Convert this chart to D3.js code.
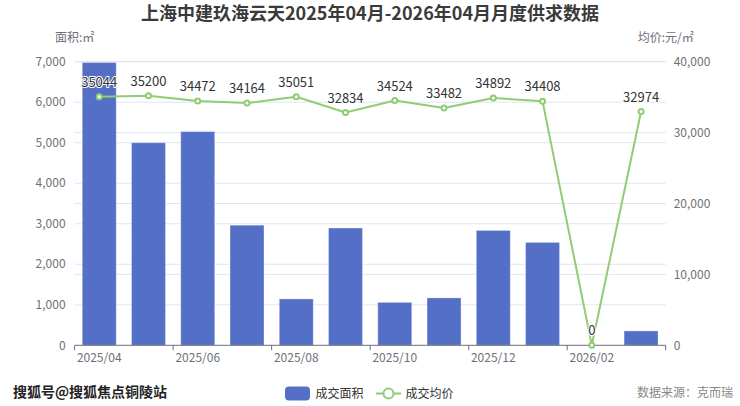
<!DOCTYPE html>
<html><head><meta charset="utf-8">
<script src="https://cdn.jsdelivr.net/npm/d3@7/dist/d3.min.js"></script>
<style>
html,body{margin:0;padding:0;background:#fff;}
svg{display:block;font-family:"Noto Sans CJK SC","Noto Sans",sans-serif;}
</style></head>
<body><svg id="c" width="740" height="406"></svg>
<script>
const months = ["2025/04","2025/05","2025/06","2025/07","2025/08","2025/09","2025/10","2025/11","2025/12","2026/01","2026/02","2026/03"];
const areaValues = [6980, 5000, 5275, 2965, 1145, 2895, 1060, 1170, 2835, 2540, 0, 355];
const priceValues = [35044, 35200, 34472, 34164, 35051, 32834, 34524, 33482, 34892, 34408, 0, 32974];
const leftTicks = [0,1000,2000,3000,4000,5000,6000,7000];
const rightTicks = [0,10000,20000,30000,40000];
const titleText = "上海中建玖海云天2025年04月-2026年04月月度供求数据";
const legendNames = ["成交面积","成交均价"];

const svg = d3.select("#c");
const L = 74.6, R = 665.7, T = 61.7, B = 345.3;
const x = d3.scaleBand().domain(months).range([L,R]).paddingInner(0).paddingOuter(0);
const yL = d3.scaleLinear().domain([0,7000]).range([B,T]);
const yR = d3.scaleLinear().domain([0,40000]).range([B,T]);
const barColor = "#5470C6", lineColor = "#91CC75", axisColor = "#6E7079", gridColor = "#E0E6F1";

// title
svg.append("text").attr("x",370).attr("y",20).attr("text-anchor","middle")
  .attr("font-size",18).attr("font-weight","bold").attr("fill","#3a3a3a").text(titleText);

// grid lines
const g = svg.append("g");
g.selectAll(".gl").data(leftTicks.filter(d=>d>0)).join("line")
  .attr("x1",L).attr("x2",R).attr("y1",d=>yL(d)).attr("y2",d=>yL(d))
  .attr("stroke",gridColor).attr("stroke-width",1);
g.selectAll(".gr").data(rightTicks.filter(d=>d>0)).join("line")
  .attr("x1",L).attr("x2",R).attr("y1",d=>yR(d)).attr("y2",d=>yR(d))
  .attr("stroke",gridColor).attr("stroke-width",1);

// axis names
svg.append("text").attr("x",L).attr("y",42).attr("text-anchor","middle").attr("font-size",12).attr("fill",axisColor).text("面积:㎡");
svg.append("text").attr("x",R).attr("y",42).attr("text-anchor","middle").attr("font-size",12).attr("fill",axisColor).text("均价:元/㎡");

// axis labels
const fmt = d3.format(",");
svg.append("g").selectAll("text").data(leftTicks).join("text")
  .attr("x",L-9).attr("y",d=>yL(d)).attr("dy","0.35em").attr("text-anchor","end")
  .attr("font-size",12).attr("fill",axisColor).text(d=>fmt(d));
svg.append("g").selectAll("text").data(rightTicks).join("text")
  .attr("x",R+8).attr("y",d=>yR(d)).attr("dy","0.35em").attr("text-anchor","start")
  .attr("font-size",12).attr("fill",axisColor).text(d=>fmt(d));

// bars
const bw = 34;
svg.append("g").selectAll("rect").data(areaValues).join("rect")
  .attr("x",(d,i)=>x(months[i])+x.bandwidth()/2-bw/2)
  .attr("width",bw)
  .attr("y",d=>yL(d)).attr("height",d=>B-yL(d))
  .attr("fill",barColor).attr("stroke","rgba(255,255,255,0.35)").attr("stroke-width",1);

// x axis
svg.append("line").attr("x1",L).attr("x2",R).attr("y1",B).attr("y2",B).attr("stroke",axisColor).attr("stroke-width",1);
const tickIdx = months.map((m,i)=>i).filter(i=>i%2===0);
svg.append("g").selectAll("line").data(tickIdx.concat([months.length])).join("line")
  .attr("x1",i=> i<months.length? x(months[i]) : R).attr("x2",i=> i<months.length? x(months[i]) : R)
  .attr("y1",B).attr("y2",B+5).attr("stroke",axisColor);
svg.append("g").selectAll("text").data(tickIdx).join("text")
  .attr("x",i=>x(months[i])+x.bandwidth()/2).attr("y",B+17).attr("text-anchor","middle")
  .attr("font-size",12).attr("fill",axisColor).text(i=>months[i]);

// line
const cx = i => x(months[i]) + x.bandwidth()/2;
const line = d3.line().x((d,i)=>cx(i)).y(d=>yR(d));
svg.append("path").datum(priceValues).attr("d",line).attr("fill","none")
  .attr("stroke",lineColor).attr("stroke-width",2).attr("stroke-linejoin","round");
svg.append("g").selectAll("circle").data(priceValues).join("circle")
  .attr("cx",(d,i)=>cx(i)).attr("cy",d=>yR(d)).attr("r",2.5)
  .attr("fill","#fff").attr("stroke",lineColor).attr("stroke-width",2);
svg.append("g").selectAll("text").data(priceValues).join("text")
  .attr("x",(d,i)=>cx(i)).attr("y",d=>yR(d)-10).attr("text-anchor","middle")
  .attr("font-size",13).attr("fill","#333")
  .attr("stroke","#fff").attr("stroke-width",2).attr("paint-order","stroke").attr("stroke-linejoin","round")
  .text(d=>d);

// legend
const lg = svg.append("g");
lg.append("rect").attr("x",285).attr("y",386.5).attr("width",25).attr("height",14).attr("rx",4).attr("fill",barColor);
lg.append("text").attr("x",315.5).attr("y",393.5).attr("dy","0.35em").attr("font-size",12).attr("fill","#333").text(legendNames[0]);
lg.append("line").attr("x1",376).attr("x2",401).attr("y1",393.5).attr("y2",393.5).attr("stroke",lineColor).attr("stroke-width",2);
lg.append("circle").attr("cx",388.5).attr("cy",393.5).attr("r",5).attr("fill","#fff").attr("stroke",lineColor).attr("stroke-width",2);
lg.append("text").attr("x",405.5).attr("y",393.5).attr("dy","0.35em").attr("font-size",12).attr("fill","#333").text(legendNames[1]);

// watermark & source
svg.append("text").attr("x",13).attr("y",392).attr("dy","0.35em").attr("font-size",14).attr("font-weight","bold")
  .attr("fill","#222").attr("stroke","#fff").attr("stroke-width",1.5).attr("paint-order","stroke").text("搜狐号@搜狐焦点铜陵站");
svg.append("text").attr("x",733).attr("y",393).attr("dy","0.35em").attr("text-anchor","end").attr("font-size",12).attr("fill","#888").text("数据来源：克而瑞");
</script></body></html>
